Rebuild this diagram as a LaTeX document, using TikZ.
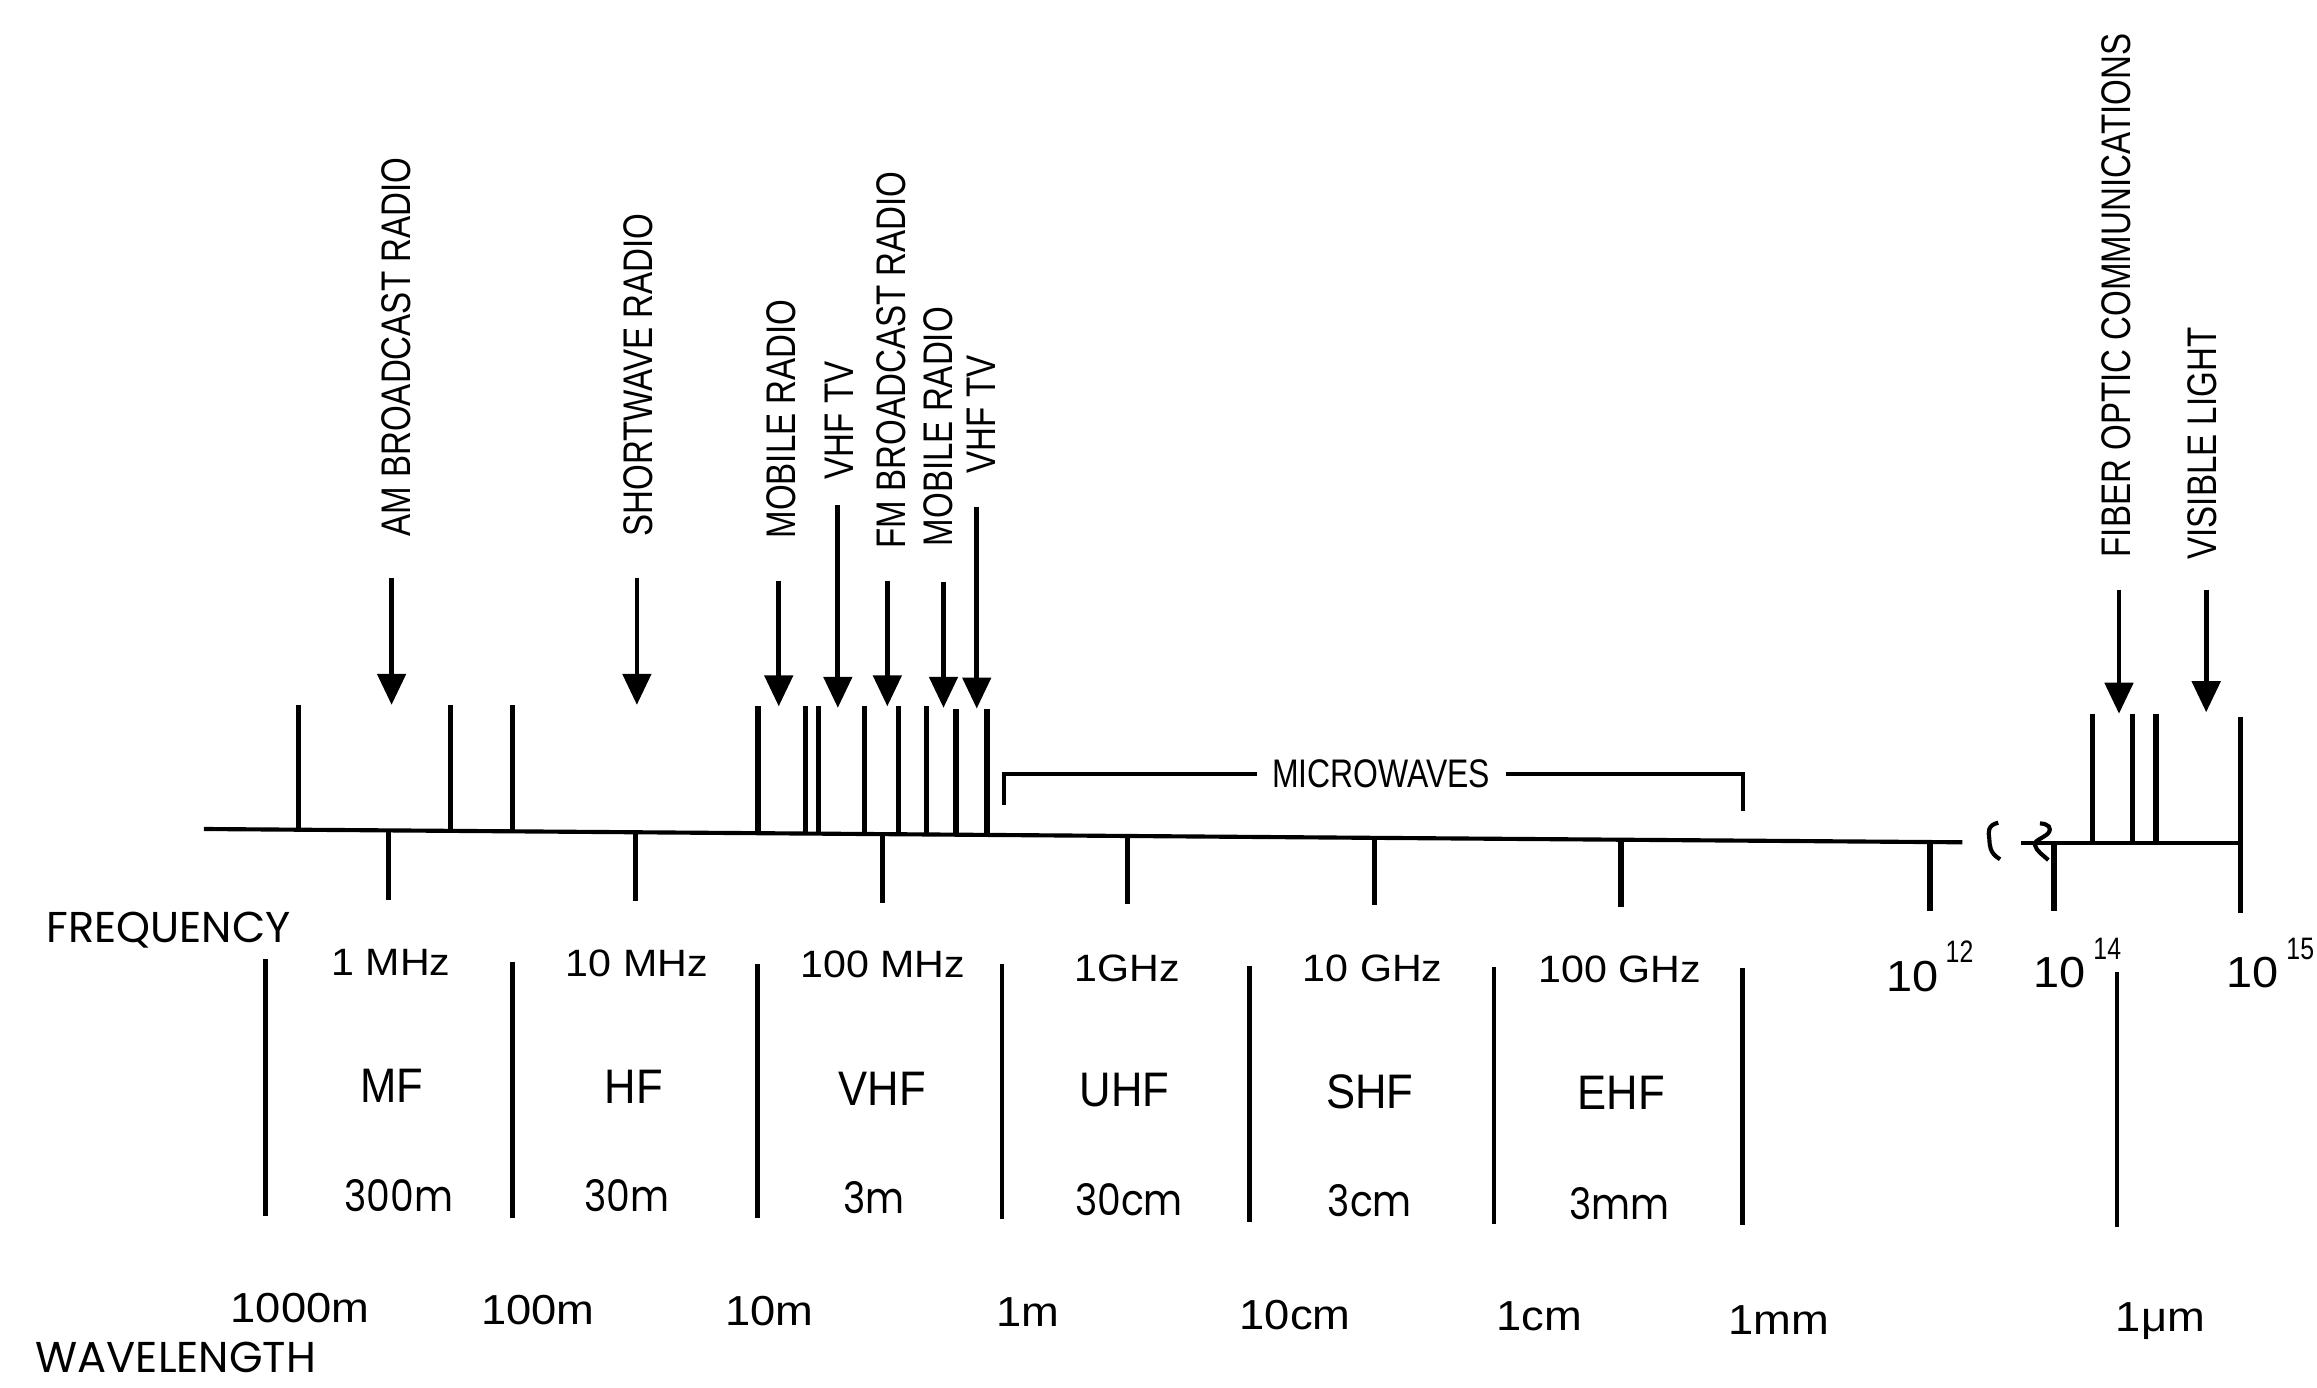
\documentclass[tikz,border=0pt]{standalone}
\usepackage{fontspec}
\setmainfont{Liberation Sans}
\newfontfamily\fA[FakeStretch=0.8]{Liberation Sans}
\newfontfamily\fB[FakeStretch=1.08]{Liberation Sans}
\newfontfamily\fC[FakeStretch=0.9]{Liberation Sans}
\newfontfamily\fD[FakeStretch=0.87]{Poppins}
\newfontfamily\fE{Poppins}
\usetikzlibrary{arrows.meta}
\newcommand{\supnum}[1]{\hspace{2.5pt}\raisebox{9.7pt}{\fA\fontsize{10.5}{11}\selectfont #1}}
\begin{document}
\begin{tikzpicture}[x=0.5pt,y=-0.5pt,
  tick/.style={line width=1.8pt},
  axisline/.style={line width=1.4pt},
  divider/.style={line width=1.6pt},
  bracket/.style={line width=1.2pt},
  squig/.style={line width=1.4pt},
  arr/.style={line width=1.6pt,-{Triangle[width=9.5pt,length=10.5pt]}},
  vlabel/.style={rotate=90,anchor=west,inner sep=0pt,font=\fA\fontsize{14}{14}\selectfont},
  freq/.style={anchor=base,inner sep=0pt,font=\fB\fontsize{12.9}{13}\selectfont},
  band/.style={anchor=base,inner sep=0pt,font=\fC\fontsize{16.4}{17}\selectfont},
  bwl/.style={anchor=base,inner sep=0pt,font=\fD\fontsize{14.7}{15}\selectfont},
  wl/.style={anchor=base,inner sep=0pt,font=\fB\fontsize{14.2}{15}\selectfont},
  pow/.style={anchor=base west,inner sep=0pt,font=\fB\fontsize{14.7}{15}\selectfont},
  axtitle/.style={anchor=base west,inner sep=0pt,font=\fE\fontsize{14.6}{15}\selectfont},
]
\path[use as bounding box] (0,0) rectangle (1568,939);

% main axis (left part) and right part
\coordinate (axL) at (138,561);
\coordinate (axR) at (1328,570);
\draw[axisline] (axL) -- (axR);
\coordinate (rxL) at (1368,570.5);
\coordinate (rxR) at (1516,570.5);
\draw[axisline] (rxL) -- (rxR);

% axis break squiggles
\draw[squig] (1352.3,556.7) .. controls (1345,558.5) and (1345.5,563) .. (1346.2,567.3)
  .. controls (1346.6,572) and (1346,577) .. (1353.5,581.5);
\draw[squig] (1380.5,557.2) .. controls (1386,557.5) and (1389,560) .. (1386,564)
  .. controls (1383,567) and (1376,569) .. (1377.1,571.8)
  .. controls (1378,576) and (1383,579) .. (1386.2,582);

% upper ticks
\foreach \x/\t/\b in {202/477/561.5, 305/477/562.3, 347/477/562.6, 513/478/563.8,
  545/478/564.1, 554/478/564.1, 585/478/564.4, 608/478/564.6, 627/478/564.7,
  647/480/564.8, 668/480/565.0, 1416/483/570.5, 1443/483/570.5, 1459/483/570.5}
  \draw[tick] (\x,\t) -- (\x,\b);
\draw[tick] (1516,485) -- (1516,618);

% lower ticks
\foreach \x/\t/\b in {263/561.9/609, 430/563.2/610, 597/564.5/611, 763/565.7/611.8,
  930/567/612.7, 1097/568.3/614, 1306/569.8/616.4, 1390/570.5/616.4}
  \draw[tick] (\x,\t) -- (\x,\b);

% band dividers
\foreach \x/\t/\b in {179.5/649/822.6, 346.6/651/824, 512.7/652.6/824, 678/652.6/825,
  845.5/653.4/827, 1011/654.6/828, 1179.2/655/829, 1432.6/657.5/830}
  \draw[divider] (\x,\t) -- (\x,\b);

% application labels
\node[vlabel] (lAM)  at (268,363.5) {AM BROADCAST RADIO};
\node[vlabel] (lSW)  at (432,363.5) {SHORTWAVE RADIO};
\node[vlabel] (lMR1) at (529,364.8) {MOBILE RADIO};
\node[vlabel] (lTV1) at (568,324.6) {VHF TV};
\node[vlabel] (lFM)  at (603,371.4) {FM BROADCAST RADIO};
\node[vlabel] (lMR2) at (635,370) {MOBILE RADIO};
\node[vlabel] (lTV2) at (664,320.6) {VHF TV};
\node[vlabel] (lFO)  at (1432,377.5) {FIBER OPTIC COMMUNICATIONS};
\node[vlabel] (lVL)  at (1490,379) {VISIBLE LIGHT};

% arrows
\foreach \n/\x/\t/\b in {AM/265/391/477, SW/431/391/477, MR1/527/393/478, TV1/567/342/479,
  FM/600.5/393/478, MR2/638.5/394/479, TV2/661/343/479.5, FO/1434/399/483, VL/1493/399/482}
{
  \coordinate (a\n T) at (\x,\t);
  \coordinate (a\n B) at (\x,\b);
  \draw[arr] (a\n T) -- (a\n B);
}

% microwaves bracket
\node[inner xsep=5pt,inner ysep=1pt,font=\fA\fontsize{13.5}{14}\selectfont] (mw) at (934.7,523.6) {MICROWAVES};
\coordinate (mwL) at (679.6,545);
\coordinate (mwR) at (1179.6,548.5);
\draw[bracket] (mwL) |- (mw.west);
\draw[bracket] (mw.east) -| (mwR);

% axis titles
\node[axtitle] (tF) at (31,637.5) {FREQUENCY};
\node[axtitle] (tW) at (23.7,929) {WAVELENGTH};

% frequencies
\node[freq] (f1) at (264.7,660) {1 MHz};
\node[freq] (f2) at (431,661) {10 MHz};
\node[freq] (f3) at (597.4,661.5) {100 MHz};
\node[freq] (f4) at (763,664) {1GHz};
\node[freq] (f5) at (929,664.5) {10 GHz};
\node[freq] (f6) at (1096,665) {100 GHz};
\node[pow] (p12) at (1276,671) {10\supnum{12}};
\node[pow] (p14) at (1376,668.4) {10\supnum{14}};
\node[pow] (p15) at (1506.6,668.4) {10\supnum{15}};

% band names
\node[band] (bMF)  at (265,746) {MF};
\node[band] (bHF)  at (429,747) {HF};
\node[band] (bVHF) at (597,748) {VHF};
\node[band] (bUHF) at (761,749) {UHF};
\node[band] (bSHF) at (927,750) {SHF};
\node[band] (bEHF) at (1097,751) {EHF};

% band wavelengths
\node[bwl] (w1) at (270,819.6) {300m};
\node[bwl] (w2) at (424,820) {30m};
\node[bwl] (w3) at (591.5,821) {3m};
\node[bwl] (w4) at (764,822.6) {30cm};
\node[bwl] (w5) at (927,823.5) {3cm};
\node[bwl] (w6) at (1096,825.5) {3mm};

% wavelength scale
\node[wl] (s1) at (203,895) {1000m};
\node[wl] (s2) at (364,896) {100m};
\node[wl] (s3) at (520.5,897) {10m};
\node[wl] (s4) at (695.8,898) {1m};
\node[wl] (s5) at (876.4,900) {10cm};
\node[wl] (s6) at (1041.5,900.5) {1cm};
\node[wl] (s7) at (1203.7,903) {1mm};
\node[wl] (s8) at (1462,901) {1μm};
\end{tikzpicture}
\end{document}
